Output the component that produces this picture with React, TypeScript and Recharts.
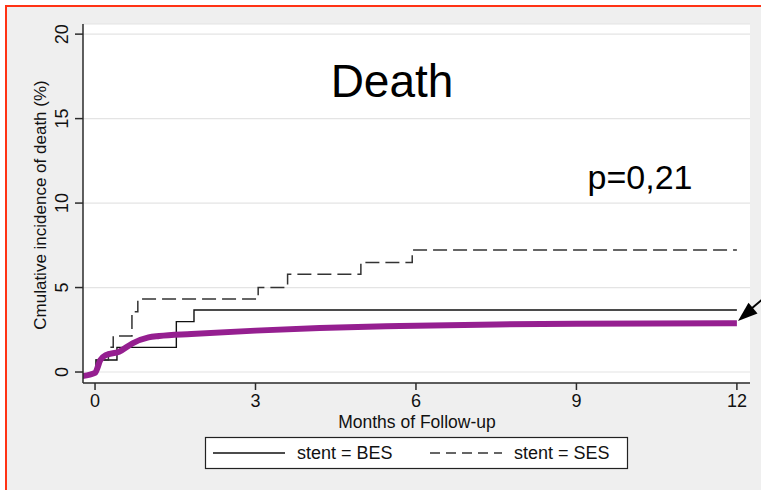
import { LineChart, Line, XAxis, YAxis, CartesianGrid } from 'recharts';

// months of follow-up vs cumulative incidence of death (%)
const besSteps = [
  { m: 0, v: 0 },
  { m: 0.02, v: 0.71 },
  { m: 0.41, v: 1.46 },
  { m: 1.52, v: 2.98 },
  { m: 1.85, v: 3.67 },
  { m: 12, v: 3.67 },
];

const sesSteps = [
  { m: 0, v: 0 },
  { m: 0.02, v: 0.71 },
  { m: 0.25, v: 1.46 },
  { m: 0.34, v: 2.13 },
  { m: 0.69, v: 3.57 },
  { m: 0.8, v: 4.32 },
  { m: 3.05, v: 5.01 },
  { m: 3.6, v: 5.78 },
  { m: 4.97, v: 6.49 },
  { m: 5.93, v: 7.22 },
  { m: 12, v: 7.22 },
];

const fitted = [
  { m: -0.24, v: -0.24 },
  { m: 0, v: -0.05 },
  { m: 0.1, v: 0.71 },
  { m: 0.2, v: 1.0 },
  { m: 0.45, v: 1.2 },
  { m: 0.7, v: 1.7 },
  { m: 1.0, v: 2.05 },
  { m: 1.2, v: 2.13 },
  { m: 1.8, v: 2.25 },
  { m: 3, v: 2.45 },
  { m: 4.2, v: 2.6 },
  { m: 5.7, v: 2.72 },
  { m: 7.5, v: 2.82 },
  { m: 9, v: 2.86 },
  { m: 12, v: 2.88 },
];

const xTicks = [0, 3, 6, 9, 12];
const yTicks = [0, 5, 10, 15, 20];

const FONT = '"Liberation Sans", Arial, Helvetica, sans-serif';
const AXIS = '#2b2b2b';
const PURPLE = '#951f90';

const XTick = ({ x, payload }: any) => (
  <text x={x} y={407} textAnchor="middle" fontSize={18} fontFamily={FONT} fill="#111">
    {payload.value}
  </text>
);

const YTick = ({ y, payload }: any) => (
  <text
    x={68}
    y={y}
    textAnchor="middle"
    fontSize={18}
    fontFamily={FONT}
    fill="#111"
    transform={`rotate(-90 68 ${y})`}
  >
    {payload.value}
  </text>
);

export default function App() {
  return (
    <div style={{ position: 'relative', width: 761, height: 490, background: '#fff', overflow: 'hidden' }}>
      <style>{'body{margin:0}'}</style>
      <div
        style={{
          position: 'absolute',
          left: 5,
          top: 5,
          right: 0,
          bottom: 0,
          background: '#efefef',
          borderTop: '2px solid #ff3214',
          borderLeft: '2px solid #ff3214',
        }}
      />
      <div style={{ position: 'absolute', left: 0, top: 0 }}>
        <LineChart width={761} height={490} margin={{ top: 24, right: 11, left: 0, bottom: 77 }}>
          <CartesianGrid vertical={false} fill="#fff" stroke="#e4e4e4" strokeWidth={1.2} />
          <XAxis
            dataKey="m"
            type="number"
            domain={[-0.225, 12.245]}
            ticks={xTicks}
            allowDataOverflow
            height={30}
            tickSize={7}
            stroke={AXIS}
            strokeWidth={1.5}
            tick={<XTick />}
          />
          <YAxis
            type="number"
            domain={[-0.65, 20.6]}
            ticks={yTicks}
            allowDataOverflow
            width={83}
            tickSize={8}
            stroke={AXIS}
            strokeWidth={1.5}
            tick={<YTick />}
          />
          <Line
            data={besSteps}
            dataKey="v"
            type="stepAfter"
            stroke="#111"
            strokeWidth={1.4}
            dot={false}
            isAnimationActive={false}
          />
          <Line
            data={sesSteps}
            dataKey="v"
            type="stepAfter"
            stroke="#333"
            strokeWidth={1.5}
            strokeDasharray="14 6"
            dot={false}
            isAnimationActive={false}
          />
          <Line
            data={fitted}
            dataKey="v"
            type="monotone"
            stroke={PURPLE}
            strokeWidth={6}
            dot={false}
            isAnimationActive={false}
          />
        </LineChart>
      </div>
      <svg
        width={761}
        height={490}
        style={{ position: 'absolute', left: 0, top: 0, pointerEvents: 'none' }}
        fontFamily={FONT}
      >
        <text x={392} y={97} textAnchor="middle" fontSize={46} fill="#000">
          Death
        </text>
        <text x={640} y={189} textAnchor="middle" fontSize={34} fill="#000">
          p=0,21
        </text>
        <text x={417} y={428} textAnchor="middle" fontSize={17.5} fill="#111">
          Months of Follow-up
        </text>
        <text x={46} y={205} textAnchor="middle" fontSize={17} fill="#111" transform="rotate(-90 46 205)">
          Cmulative incidence of death (%)
        </text>

        {/* arrow pointing at the end of the fitted curve */}
        <line x1={764} y1={298} x2={751} y2={309} stroke="#000" strokeWidth={2} />
        <polygon points="738,321 757.5,313.5 748.5,302.8" fill="#000" />

        {/* legend */}
        <rect x={205.5} y={437.5} width={422} height={31} fill="#fff" stroke="#222" strokeWidth={1.2} />
        <line x1={213} y1={453} x2={285} y2={453} stroke="#111" strokeWidth={1.3} />
        <text x={297} y={459} fontSize={18} fill="#111">
          stent = BES
        </text>
        <line x1={430} y1={453} x2={502} y2={453} stroke="#333" strokeWidth={1.3} strokeDasharray="10 6" />
        <text x={514} y={459} fontSize={18} fill="#111">
          stent = SES
        </text>
      </svg>
    </div>
  );
}
